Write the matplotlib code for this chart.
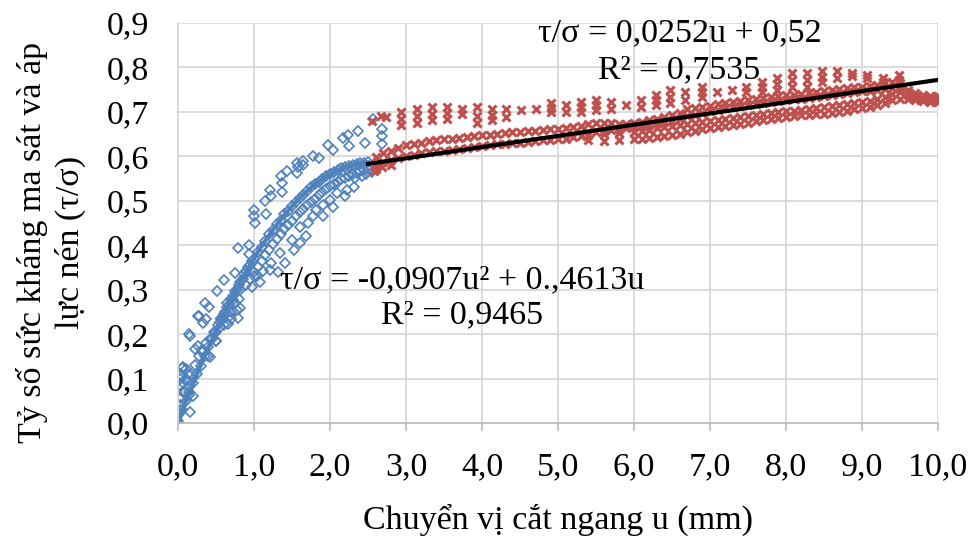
import numpy as np
import matplotlib.pyplot as plt
from matplotlib.ticker import FuncFormatter, MultipleLocator

plt.rcParams['font.family'] = ['Liberation Serif', 'DejaVu Serif']
plt.rcParams['font.size'] = 24.5

BLUE = '#4F81BD'
RED = '#C0504D'

# ---- giai doan 1: u = 0 .. 2,5 mm (diem xanh) ----
# day diem nam sat duong xu huong
blue_a_u = [0.00, 0.05, 0.10, 0.15, 0.20, 0.25, 0.30, 0.35, 0.40, 0.45, 0.50,
            0.55, 0.60, 0.65, 0.70, 0.75, 0.80, 0.85, 0.90, 0.95, 1.00, 1.05,
            1.10, 1.15, 1.20, 1.25, 1.30, 1.35, 1.40, 1.45, 1.50, 1.55, 1.60,
            1.65, 1.70, 1.75, 1.80, 1.85, 1.90, 1.95, 2.00, 2.05, 2.10, 2.15,
            2.20, 2.25, 2.30, 2.35, 2.40, 2.45, 2.50]
blue_a_v = [0.005, 0.030, 0.050, 0.070, 0.090, 0.110, 0.128, 0.150, 0.172, 0.190,
            0.205, 0.228, 0.245, 0.260, 0.280, 0.297, 0.310, 0.325, 0.343, 0.356,
            0.370, 0.385, 0.397, 0.410, 0.425, 0.434, 0.447, 0.457, 0.470, 0.478,
            0.489, 0.497, 0.507, 0.514, 0.523, 0.530, 0.537, 0.543, 0.550, 0.555,
            0.560, 0.565, 0.569, 0.573, 0.576, 0.579, 0.581, 0.583, 0.585, 0.586,
            0.587]
# day diem hoi cao hon o doan dau
blue_b_u = [0.02, 0.07, 0.12, 0.17, 0.22, 0.27, 0.32, 0.37, 0.42, 0.47, 0.52,
            0.57, 0.62, 0.67, 0.72, 0.77, 0.82, 0.87, 0.92, 0.97]
blue_b_v = [0.040, 0.070, 0.095, 0.110, 0.130, 0.150, 0.165, 0.180, 0.190, 0.205,
            0.220, 0.235, 0.250, 0.265, 0.285, 0.300, 0.318, 0.335, 0.350, 0.365]
# day diem thap hon duong xu huong
blue_c_u = [0.40, 0.50, 0.60, 0.70, 0.80, 0.90, 0.95, 1.00, 1.05, 1.10, 1.15,
            1.20, 1.25, 1.30, 1.35, 1.40, 1.45, 1.50, 1.55, 1.60, 1.65, 1.70,
            1.75, 1.80, 1.85, 1.90, 1.95, 2.00, 2.05, 2.10, 2.15, 2.20, 2.25,
            2.30, 2.35, 2.40, 2.45, 2.50]
blue_c_v = [0.150, 0.185, 0.220, 0.250, 0.280, 0.310, 0.325, 0.340, 0.352, 0.365,
            0.378, 0.390, 0.402, 0.415, 0.425, 0.436, 0.446, 0.455, 0.465, 0.474,
            0.482, 0.490, 0.498, 0.505, 0.512, 0.520, 0.527, 0.533, 0.538, 0.543,
            0.548, 0.552, 0.556, 0.560, 0.563, 0.566, 0.569, 0.572]
# cac diem roi rac (tren va duoi)
blue_s_u = [0.00, 0.01, 0.02, 0.02, 0.03, 0.04, 0.04, 0.05, 0.06, 0.07, 0.09, 0.10,
            0.11, 0.13, 0.15, 0.15, 0.16, 0.16, 0.20, 0.22, 0.26, 0.26, 0.27, 0.31,
            0.33, 0.35, 0.37, 0.41, 0.42, 0.50, 0.51, 0.55, 0.57, 0.60, 0.64, 0.66,
            0.68, 0.70, 0.73, 0.75, 0.75, 0.77, 0.79, 0.79, 0.81, 0.82, 0.93, 0.94,
            0.97, 1.00, 1.00, 1.00, 1.01, 1.04, 1.08, 1.12, 1.15, 1.16, 1.21, 1.21,
            1.22, 1.23, 1.32, 1.34, 1.36, 1.37, 1.37, 1.41, 1.43, 1.50, 1.52, 1.56,
            1.57, 1.58, 1.60, 1.60, 1.65, 1.65, 1.69, 1.71, 1.78, 1.78, 1.82, 1.85,
            1.91, 1.91, 1.98, 2.00, 2.04, 2.04, 2.09, 2.17, 2.20, 2.22, 2.24, 2.25,
            2.31, 2.33, 2.37, 2.42, 2.46, 2.48, 2.55, 2.57, 2.68, 2.68, 2.68]
blue_s_v = [0.000, 0.020, 0.030, 0.085, 0.100, 0.107, 0.056, 0.124, 0.090, 0.126, 0.070, 0.100,
            0.122, 0.110, 0.200, 0.063, 0.196, 0.024, 0.060, 0.167, 0.174, 0.240, 0.240, 0.159,
            0.226, 0.270, 0.233, 0.260, 0.148, 0.185, 0.296, 0.215, 0.236, 0.322, 0.270, 0.222,
            0.240, 0.233, 0.277, 0.337, 0.270, 0.255, 0.393, 0.237, 0.259, 0.300, 0.400, 0.380,
            0.307, 0.480, 0.465, 0.330, 0.450, 0.330, 0.318, 0.341, 0.500, 0.470, 0.525, 0.345,
            0.510, 0.360, 0.339, 0.382, 0.555, 0.520, 0.540, 0.360, 0.566, 0.412, 0.390, 0.585,
            0.562, 0.575, 0.405, 0.442, 0.580, 0.590, 0.420, 0.450, 0.600, 0.465, 0.480, 0.596,
            0.465, 0.491, 0.626, 0.502, 0.615, 0.487, 0.517, 0.641, 0.510, 0.525, 0.649, 0.623,
            0.532, 0.551, 0.656, 0.555, 0.630, 0.560, 0.565, 0.685, 0.662, 0.645, 0.628]

# ---- giai doan 2: u = 2,5 .. 10 mm (diem do) ----
red_top_u = [2.55, 2.67, 2.74, 2.94, 2.94, 2.94, 3.14, 3.14, 3.14, 3.34, 3.34, 3.34,
             3.54, 3.54, 3.54, 3.74, 3.74, 3.93, 3.93, 3.93, 4.13, 4.13, 4.13, 4.32,
             4.32, 4.51, 4.71, 4.91, 4.91, 4.91, 5.11, 5.11, 5.30, 5.30, 5.30, 5.50,
             5.50, 5.50, 5.70, 5.70, 5.89, 6.09, 6.09, 6.29, 6.29, 6.29, 6.47, 6.47,
             6.47, 6.67, 6.67, 6.89, 6.89, 6.89, 7.09, 7.29, 7.48, 7.48, 7.68, 7.68,
             7.68, 7.88, 7.88, 7.88, 8.08, 8.08, 8.08, 8.28, 8.28, 8.28, 8.48, 8.48,
             8.48, 8.67, 8.67, 8.87, 8.87, 9.07, 9.07, 9.27, 9.27, 9.49, 9.49]
red_top_v = [0.680, 0.690, 0.689, 0.700, 0.685, 0.670, 0.707, 0.690, 0.674, 0.711, 0.696, 0.681,
             0.711, 0.698, 0.685, 0.707, 0.696, 0.711, 0.690, 0.674, 0.707, 0.694, 0.681, 0.707,
             0.689, 0.704, 0.707, 0.719, 0.708, 0.700, 0.715, 0.700, 0.722, 0.710, 0.700, 0.726,
             0.715, 0.704, 0.722, 0.707, 0.715, 0.726, 0.711, 0.737, 0.726, 0.715, 0.749, 0.734,
             0.719, 0.745, 0.727, 0.757, 0.745, 0.734, 0.745, 0.749, 0.757, 0.745, 0.768, 0.757,
             0.745, 0.776, 0.762, 0.749, 0.787, 0.772, 0.757, 0.787, 0.772, 0.757, 0.791, 0.779,
             0.768, 0.791, 0.776, 0.787, 0.780, 0.783, 0.776, 0.776, 0.768, 0.783, 0.772]

red_mid_u = [2.6, 2.7, 2.8, 2.9, 3.0, 3.1, 3.2, 3.3, 3.4, 3.5, 3.6, 3.7, 3.8, 3.9,
             4.0, 4.1, 4.2, 4.3, 4.4, 4.5, 4.6, 4.7, 4.8, 4.9, 5.0, 5.1, 5.2, 5.3,
             5.4, 5.5, 5.6, 5.7, 5.8, 5.9, 6.0, 6.1, 6.2, 6.3, 6.4, 6.5, 6.6, 6.7,
             6.8, 6.9, 7.0, 7.1, 7.2, 7.3, 7.4, 7.5, 7.6, 7.7, 7.8, 7.9, 8.0, 8.1,
             8.2, 8.3, 8.4, 8.5, 8.6, 8.7, 8.8, 8.9, 9.0, 9.1, 9.2, 9.3, 9.4, 9.5,
             9.6, 9.7, 9.8, 9.9, 10.0]
red_mid_hi = [0.598, 0.607, 0.613, 0.618, 0.625, 0.628, 0.631, 0.634, 0.636, 0.638,
              0.640, 0.642, 0.644, 0.646, 0.647, 0.648, 0.650, 0.652, 0.654, 0.655,
              0.657, 0.658, 0.660, 0.661, 0.662, 0.663, 0.665, 0.668, 0.672, 0.675,
              0.676, 0.674, 0.672, 0.673, 0.675, 0.678, 0.681, 0.684, 0.688, 0.692,
              0.698, 0.706, 0.709, 0.710, 0.713, 0.717, 0.720, 0.722, 0.724, 0.727,
              0.729, 0.731, 0.733, 0.735, 0.737, 0.739, 0.741, 0.743, 0.745, 0.747,
              0.749, 0.751, 0.753, 0.755, 0.757, 0.759, 0.761, 0.764, 0.767, 0.766,
              0.750, 0.742, 0.738, 0.736, 0.735]
red_mid_lo = [0.583, 0.588, 0.592, 0.596, 0.600, 0.604, 0.607, 0.609, 0.611, 0.613,
              0.615, 0.617, 0.619, 0.621, 0.623, 0.625, 0.627, 0.628, 0.629, 0.631,
              0.633, 0.634, 0.636, 0.637, 0.638, 0.640, 0.643, 0.646, 0.650, 0.655,
              0.658, 0.660, 0.662, 0.664, 0.666, 0.668, 0.671, 0.674, 0.677, 0.680,
              0.684, 0.690, 0.694, 0.698, 0.702, 0.705, 0.708, 0.711, 0.713, 0.716,
              0.718, 0.720, 0.722, 0.724, 0.726, 0.728, 0.730, 0.732, 0.734, 0.736,
              0.738, 0.740, 0.742, 0.744, 0.746, 0.748, 0.750, 0.752, 0.754, 0.752,
              0.738, 0.732, 0.728, 0.727, 0.726]

red_low_u = [5.4, 5.6, 5.8, 6.0, 6.1, 6.2, 6.3, 6.4, 6.5, 6.6, 6.7, 6.8, 6.9, 7.0,
             7.1, 7.2, 7.3, 7.4, 7.5, 7.6, 7.7, 7.8, 7.9, 8.0, 8.1, 8.2, 8.3, 8.4,
             8.5, 8.6, 8.7, 8.8, 8.9, 9.0, 9.1, 9.2, 9.3, 9.4, 9.5, 9.6, 9.7, 9.8,
             9.9, 10.0]
red_low_hi = [0.648, 0.650, 0.652, 0.655, 0.658, 0.660, 0.664, 0.666, 0.668, 0.670,
              0.672, 0.675, 0.677, 0.680, 0.682, 0.684, 0.686, 0.688, 0.690, 0.693,
              0.695, 0.697, 0.699, 0.701, 0.703, 0.705, 0.707, 0.709, 0.711, 0.714,
              0.716, 0.718, 0.720, 0.722, 0.725, 0.728, 0.733, 0.740, 0.745, 0.740,
              0.735, 0.733, 0.732, 0.732]
red_low_lo = [0.636, 0.634, 0.636, 0.638, 0.640, 0.642, 0.643, 0.645, 0.648, 0.651,
              0.655, 0.658, 0.661, 0.664, 0.667, 0.669, 0.671, 0.673, 0.676, 0.679,
              0.682, 0.684, 0.686, 0.688, 0.690, 0.692, 0.694, 0.695, 0.696, 0.697,
              0.699, 0.703, 0.706, 0.709, 0.712, 0.716, 0.720, 0.726, 0.730, 0.728,
              0.726, 0.724, 0.723, 0.723]
red_s_u = [2.58, 2.60, 2.69, 2.80]
red_s_v = [0.568, 0.572, 0.576, 0.580]

# he so duong xu huong
poly_a, poly_b = -0.0907, 0.4613   # tau/sigma = a*u^2 + b*u
lin_k, lin_c = 0.0252, 0.52        # tau/sigma = k*u + c

fig = plt.figure(figsize=(9.72, 5.39), dpi=100)
ax = fig.add_axes([178/972, 1-423/539, 760/972, 400/539])

diamond = dict(linestyle='none', marker='D', ms=4.8, mfc='none', mec=BLUE, mew=1.2)
cross = dict(linestyle='none', marker='x', ms=5.5, mec=RED, mew=2.2)

ax.plot(blue_a_u, blue_a_v, **diamond)
ax.plot(blue_b_u, blue_b_v, **diamond)
ax.plot(blue_c_u, blue_c_v, **diamond)
ax.plot(blue_s_u, blue_s_v, **diamond)

ax.plot(red_top_u, red_top_v, **cross)
ax.plot(red_mid_u, red_mid_hi, **cross)
ax.plot(red_mid_u, red_mid_lo, **cross)
ax.plot(red_low_u, red_low_hi, **cross)
ax.plot(red_low_u, red_low_lo, **cross)
ax.plot(red_s_u, red_s_v, **cross)

u1 = np.linspace(0, 2.5, 100)
ax.plot(u1, poly_a*u1**2 + poly_b*u1, color=BLUE, lw=3)
u2 = np.linspace(2.5, 10, 50)
ax.plot(u2, lin_k*u2 + lin_c, color='black', lw=3)

ax.text(6.6, 0.878, 'τ/σ = 0,0252u + 0,52', ha='center', va='center')
ax.text(6.6, 0.795, 'R² = 0,7535', ha='center', va='center')
ax.text(3.74, 0.322, 'τ/σ = -0,0907u² + 0.,4613u', ha='center', va='center')
ax.text(3.74, 0.243, 'R² = 0,9465', ha='center', va='center')

ax.set_xlim(0, 10)
ax.set_ylim(0, 0.9)
ax.xaxis.set_major_locator(MultipleLocator(1))
ax.yaxis.set_major_locator(MultipleLocator(0.1))
comma = FuncFormatter(lambda x, pos: f'{x:.1f}'.replace('.', ','))
ax.xaxis.set_major_formatter(comma)
ax.yaxis.set_major_formatter(comma)

ax.grid(True, color='#d9d9d9', lw=1.3)
ax.set_axisbelow(True)
for side in ['top', 'right']:
    ax.spines[side].set_visible(False)
ax.spines['left'].set_color('#d9d9d9')
ax.spines['bottom'].set_color('#bfbfbf')
ax.spines['left'].set_linewidth(1.3)
ax.spines['bottom'].set_linewidth(1.3)
ax.tick_params(axis='x', direction='out', length=6, width=1.3, color='#bfbfbf', pad=15)
ax.tick_params(axis='y', length=0, pad=21)

fig.text(558/972, 1-520/539, 'Chuyển vị cắt ngang u (mm)', ha='center', va='center')
fig.text(51/972, 1-242/539, 'Tỷ số sức kháng ma sát và áp\nlực nén (τ/σ)',
         rotation=90, ha='center', va='center', linespacing=1.25)

fig.savefig('out.png', dpi=100)
